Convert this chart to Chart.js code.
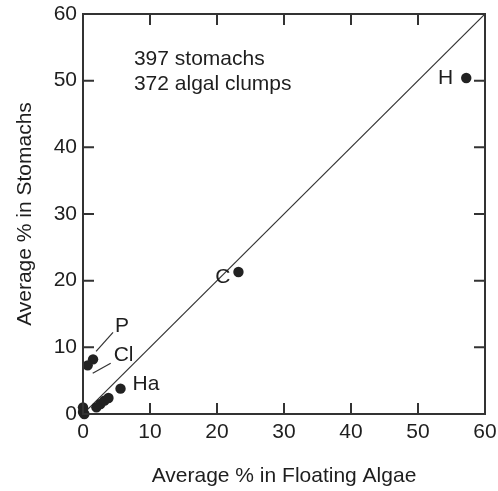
<!DOCTYPE html>
<html>
<head>
<meta charset="utf-8">
<script src="https://cdn.jsdelivr.net/npm/chart.js@4.4.1/dist/chart.umd.min.js"></script>
<style>
  html, body { margin: 0; padding: 0; background: #ffffff; }
  #wrap { width: 498px; height: 491px; }
</style>
</head>
<body>
<div id="wrap"><canvas id="c" width="498" height="491"></canvas></div>
<script>
// ---- data ----
const pointNames = ['H', 'C', 'P', 'Cl', 'Ha', '', '', '', '', '', '', ''];
const floatingAlgae = [57.2, 23.2, 1.5, 0.7, 5.6, 2.0, 2.6, 3.2, 3.8, 0.0, 0.0, 0.2];
const stomachs =      [50.4, 21.3, 8.2, 7.3, 3.8, 1.0, 1.5, 2.0, 2.4, 1.0, 0.3, 0.0];
const equalityLineX = [0, 60];
const equalityLineY = [0, 60];
const tickValues = [0, 10, 20, 30, 40, 50, 60];
const noteLines = ['397 stomachs', '372 algal clumps'];
const xTitle = 'Average % in Floating Algae';
const yTitle = 'Average % in Stomachs';

// ---- styling / layout (not data) ----
const FONT = '"Liberation Sans", Arial, Helvetica, sans-serif';
const INK = '#1e1e1e';
const labelStyle = {
  'H':  { align: 'right', dx: -13, dy: 0 },
  'C':  { align: 'right', dx: -8,  dy: 5 },
  'P':  { align: 'left',  dx: 22,  dy: -33, leader: [3, -8, 20, -27] },
  'Cl': { align: 'left',  dx: 26,  dy: -10, leader: [5, 8, 23, -2] },
  'Ha': { align: 'left',  dx: 12,  dy: -4 }
};

const framePlugin = {
  id: 'frame',
  afterDatasetsDraw(chart) {
    const { ctx, chartArea: a, scales } = chart;
    const xs = scales.x, ys = scales.y;
    ctx.save();
    ctx.strokeStyle = '#333333';
    ctx.lineWidth = 2;
    ctx.strokeRect(a.left, a.top, a.right - a.left, a.bottom - a.top);
    const tl = 11;
    ctx.beginPath();
    tickValues.forEach(v => {
      if (v === tickValues[0] || v === tickValues[tickValues.length - 1]) return;
      const px = xs.getPixelForValue(v);
      ctx.moveTo(px, a.bottom); ctx.lineTo(px, a.bottom - tl);
      ctx.moveTo(px, a.top); ctx.lineTo(px, a.top + tl);
      const py = ys.getPixelForValue(v);
      ctx.moveTo(a.left, py); ctx.lineTo(a.left + tl, py);
      ctx.moveTo(a.right, py); ctx.lineTo(a.right - tl, py);
    });
    ctx.stroke();

    // point labels
    const meta = chart.getDatasetMeta(1);
    ctx.fillStyle = INK;
    ctx.font = '21px ' + FONT;
    ctx.textBaseline = 'middle';
    ctx.lineWidth = 1.2;
    ctx.strokeStyle = '#333333';
    pointNames.forEach((name, i) => {
      if (!name) return;
      const st = labelStyle[name];
      const el = meta.data[i];
      ctx.textAlign = st.align;
      ctx.fillText(name, el.x + st.dx, el.y + st.dy);
      if (st.leader) {
        const l = st.leader;
        ctx.beginPath();
        ctx.moveTo(el.x + l[0], el.y + l[1]);
        ctx.lineTo(el.x + l[2], el.y + l[3]);
        ctx.stroke();
      }
    });

    // note text
    ctx.textAlign = 'left';
    const nx = xs.getPixelForValue(7.6);
    noteLines.forEach((t, i) => {
      ctx.fillText(t, nx, ys.getPixelForValue(53.2) + i * 24.5);
    });
    ctx.restore();
  }
};

const ticksFromList = scale => { scale.ticks = tickValues.map(v => ({ value: v })); };

new Chart(document.getElementById('c'), {
  type: 'scatter',
  data: {
    datasets: [
      {
        type: 'line',
        data: equalityLineX.map((x, i) => ({ x, y: equalityLineY[i] })),
        borderColor: '#333333',
        borderWidth: 1.2,
        pointRadius: 0,
        fill: false,
        order: 2
      },
      {
        data: floatingAlgae.map((x, i) => ({ x, y: stomachs[i] })),
        backgroundColor: '#222222',
        borderColor: '#222222',
        borderWidth: 0,
        pointRadius: 5.2,
        pointHoverRadius: 5.2,
        clip: false,
        order: 1
      }
    ]
  },
  options: {
    responsive: false,
    animation: false,
    events: [],
    layout: { padding: { top: 14, right: 13, left: 0, bottom: 0 } },
    plugins: { legend: { display: false }, tooltip: { enabled: false } },
    scales: {
      x: {
        type: 'linear', min: 0, max: 60,
        afterBuildTicks: ticksFromList,
        afterFit: s => { s.height = 77; s.paddingLeft = 0; s.paddingRight = 0; },
        grid: { display: false, drawTicks: false },
        border: { display: false },
        ticks: { color: INK, font: { family: FONT, size: 21 }, padding: 6, maxRotation: 0 },
        title: { display: true, text: xTitle, color: INK, font: { family: FONT, size: 21 }, padding: { top: 0, bottom: 2 } }
      },
      y: {
        type: 'linear', min: 0, max: 60,
        afterBuildTicks: ticksFromList,
        afterFit: s => { s.width = 83; s.paddingTop = 0; s.paddingBottom = 0; },
        grid: { display: false, drawTicks: false },
        border: { display: false },
        ticks: { color: INK, font: { family: FONT, size: 21 }, padding: 6 },
        title: { display: true, text: yTitle, color: INK, font: { family: FONT, size: 21 }, padding: { top: 13, bottom: 0 } }
      }
    }
  },
  plugins: [framePlugin]
});
</script>
</body>
</html>
